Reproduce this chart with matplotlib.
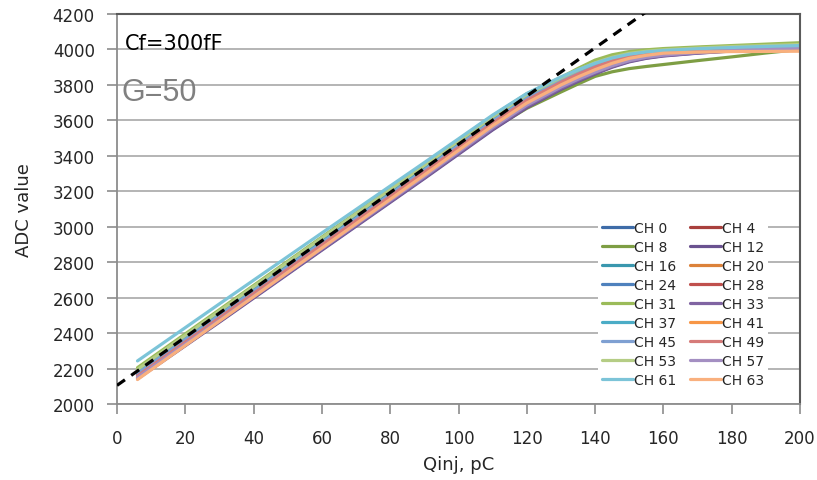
import matplotlib
matplotlib.use("Agg")
import matplotlib.pyplot as plt

plt.rcParams['font.family'] = ['DejaVu Sans']
plt.rcParams['lines.scale_dashes'] = False

# injected charge points (pC)
qinj = [6, 30, 60, 90, 110, 120, 130, 135, 140, 145, 150, 155, 160, 170, 180, 190, 200]

channels = ['CH 0', 'CH 4', 'CH 8', 'CH 12', 'CH 16', 'CH 20', 'CH 24', 'CH 28', 'CH 31',
            'CH 33', 'CH 37', 'CH 41', 'CH 45', 'CH 49', 'CH 53', 'CH 57', 'CH 61', 'CH 63']

colors = ['#3E6CA8', '#A9403D', '#7E9E44', '#6A5290', '#3A97AE', '#DC823A',
          '#4F81BD', '#C0504D', '#9BBB59', '#8064A2', '#4BACC6', '#F79646',
          '#7FA0D2', '#D67B79', '#B5CD85', '#A48FC2', '#7CC4D8', '#F9B07E']

# ADC response per channel
adc = [
    [2168, 2496, 2906, 3316, 3592, 3720, 3820, 3864, 3903, 3938, 3963, 3979, 3989, 4001, 4009, 4014, 4019],
    [2165, 2494, 2905, 3316, 3594, 3724, 3828, 3874, 3915, 3950, 3976, 3990, 3998, 4008, 4015, 4021, 4027],
    [2188, 2505, 2900, 3292, 3552, 3668, 3760, 3805, 3848, 3874, 3892, 3904, 3915, 3937, 3958, 3980, 4000],
    [2142, 2462, 2868, 3272, 3546, 3672, 3775, 3820, 3862, 3900, 3930, 3950, 3963, 3979, 3991, 3999, 4006],
    [2175, 2505, 2918, 3330, 3605, 3732, 3830, 3872, 3910, 3942, 3965, 3980, 3989, 4000, 4008, 4013, 4018],
    [2148, 2475, 2885, 3296, 3572, 3700, 3802, 3847, 3888, 3924, 3952, 3969, 3980, 3990, 3994, 3996, 3997],
    [2170, 2497, 2907, 3317, 3594, 3721, 3821, 3865, 3904, 3938, 3963, 3978, 3988, 4000, 4008, 4013, 4018],
    [2162, 2490, 2902, 3314, 3592, 3722, 3826, 3872, 3914, 3950, 3976, 3990, 3999, 4010, 4017, 4023, 4029],
    [2205, 2532, 2942, 3350, 3625, 3750, 3842, 3893, 3940, 3970, 3988, 3998, 4005, 4014, 4022, 4030, 4038],
    [2145, 2466, 2872, 3277, 3552, 3678, 3780, 3825, 3866, 3903, 3933, 3952, 3965, 3980, 3992, 4000, 4007],
    [2190, 2522, 2935, 3345, 3618, 3742, 3835, 3877, 3915, 3946, 3968, 3982, 3991, 4002, 4009, 4015, 4020],
    [2150, 2478, 2889, 3300, 3576, 3704, 3806, 3851, 3891, 3927, 3954, 3970, 3981, 3991, 3995, 3997, 3998],
    [2172, 2500, 2910, 3320, 3596, 3723, 3822, 3866, 3905, 3939, 3964, 3979, 3989, 4001, 4008, 4014, 4019],
    [2158, 2486, 2897, 3308, 3585, 3713, 3815, 3860, 3900, 3936, 3962, 3977, 3987, 3999, 4007, 4013, 4018],
    [2195, 2525, 2937, 3346, 3620, 3745, 3840, 3884, 3925, 3956, 3978, 3990, 3998, 4008, 4016, 4022, 4028],
    [2150, 2472, 2878, 3284, 3560, 3686, 3788, 3832, 3872, 3908, 3937, 3956, 3968, 3983, 3994, 4001, 4008],
    [2243, 2565, 2965, 3362, 3630, 3752, 3845, 3886, 3922, 3952, 3973, 3986, 3994, 4004, 4011, 4017, 4022],
    [2138, 2468, 2880, 3292, 3570, 3698, 3800, 3845, 3886, 3922, 3950, 3967, 3979, 3985, 3988, 3989, 3990],
]

# linear fit (ideal gain)
fit_q = [0, 155]
fit_adc = [2105, 4213]

fig = plt.figure(figsize=(8.17, 4.81), dpi=100)
ax = fig.add_axes([117 / 817, 76 / 481, 683 / 817, 390 / 481])

lines = []
for name, col, vals in zip(channels, colors, adc):
    ln, = ax.plot(qinj, vals, color=col, lw=2.3, label=name, solid_capstyle='round')
    lines.append(ln)

ax.plot(fit_q, fit_adc, color='black', lw=2.3, dashes=(7, 5.5), zorder=5)

ax.set_xlim(0, 200)
ax.set_ylim(2000, 4200)
ax.set_xticks(range(0, 201, 20))
ax.set_yticks(range(2000, 4201, 200))
ax.grid(axis='y', color='#AFAFAF', lw=1.3)
ax.set_axisbelow(True)

for side in ['left', 'bottom']:
    ax.spines[side].set_color('#8C8C8C')
    ax.spines[side].set_linewidth(1.3)
for side in ['top', 'right']:
    ax.spines[side].set_color('#5A5A5A')
    ax.spines[side].set_linewidth(1.5)

ax.tick_params(axis='both', colors='#8C8C8C', labelcolor='#262626', labelsize=12,
               length=7, width=1.2)
ax.tick_params(axis='x', pad=11)
ax.tick_params(axis='y', pad=9)

ax.set_xlabel('Qinj, pC', fontsize=13, color='#262626', labelpad=6)
ax.set_ylabel('ADC value', fontsize=13, color='#262626', labelpad=14)

ax.text(0.011, 0.925, 'Cf=300fF', transform=ax.transAxes, fontsize=15,
        color='black', va='center', ha='left')
ax.text(0.006, 0.80, 'G=50', transform=ax.transAxes, fontsize=22,
        color='#808080', va='center', ha='left', family='Liberation Sans')

# legend filled row by row: two entries per row
order = list(range(0, 18, 2)) + list(range(1, 18, 2))
leg = ax.legend([lines[i] for i in order], [channels[i] for i in order],
                ncol=2, loc='upper left', bbox_to_anchor=(0.694, 0.497),
                fontsize=10, frameon=True, fancybox=False, edgecolor='none',
                facecolor='white', framealpha=1, handlelength=2.2,
                handletextpad=0.1, columnspacing=1.0, labelspacing=0.36,
                borderpad=0.3)
for t in leg.get_texts():
    t.set_color('#262626')

fig.savefig('out.png', dpi=100, facecolor='white')
